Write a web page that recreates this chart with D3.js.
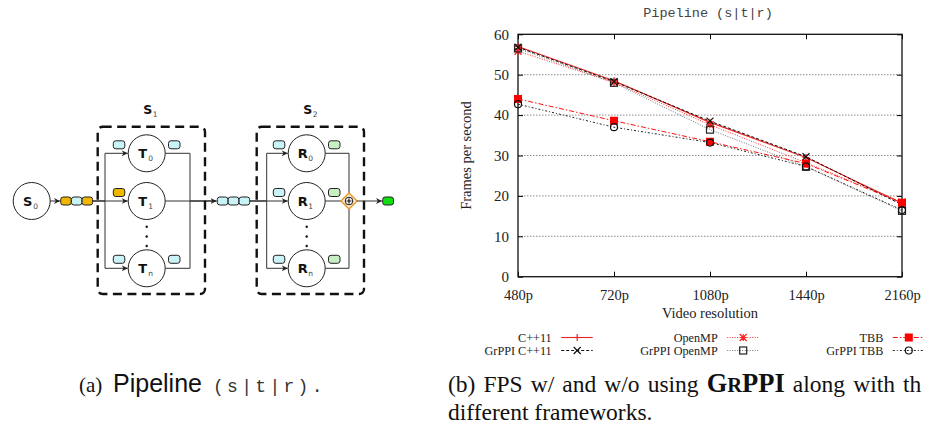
<!DOCTYPE html>
<html><head><meta charset="utf-8">
<script src="https://cdn.jsdelivr.net/npm/d3@7"></script>
<style>body{margin:0;background:#fff}svg{display:block}</style>
</head><body><svg id="c" width="925" height="427"></svg>
<script>
// ---------- chart data ----------
const categories = ["480p","720p","1080p","1440p","2160p"];
const cpp11       = [57.0,48.5,38.2,29.5,18.2];
const grppiCpp11  = [56.8,48.3,38.5,29.7,17.8];
const openmp      = [55.8,48.1,37.6,28.2,18.5];
const grppiOpenmp = [56.5,48.0,36.4,27.2,16.3];
const tbb         = [44.0,38.6,33.4,28.0,18.3];
const grppiTbb    = [42.7,37.0,33.2,27.3,16.5];
const yTicks = [0,10,20,30,40,50,60];
const seriesNames = ["C++11","GrPPI C++11","OpenMP","GrPPI OpenMP","TBB","GrPPI TBB"];
const seriesValues = [cpp11, grppiCpp11, openmp, grppiOpenmp, tbb, grppiTbb];

// ---------- diagram data ----------
const stageLabels = ["1","2"];
const workerNodes = [["T","T","T"],["R","R","R"]];
const workerSubs = ["0","1","n"];

const svg = d3.select("#c");
const serif = "'Liberation Serif','Times New Roman',serif";
const sans = "'DejaVu Sans',sans-serif";

// ===== Chart =====
const M = {l:518, r:902, t:34.3, b:276.7};
const x = d3.scalePoint().domain(categories).range([M.l, M.r]);
const y = d3.scaleLinear().domain([0,60]).range([M.b, M.t]);

const styles = [
  {stroke:"#e22", dash:null, w:1.1, mk:"plus", mc:"#e22"},
  {stroke:"#111", dash:"3,2", w:1, mk:"x", mc:"#111"},
  {stroke:"#f33", dash:"1,1.5", w:1, mk:"star", mc:"#f22"},
  {stroke:"#777", dash:"1,1.5", w:1, mk:"sq", mc:"#222"},
  {stroke:"#f11", dash:"5,2,1.5,2", w:1, mk:"fsq", mc:"#f00"},
  {stroke:"#222", dash:"2,2,1,2", w:1, mk:"circ", mc:"#111"}
];

svg.append("text").attr("x",708).attr("y",17).attr("text-anchor","middle")
  .attr("font-family","'Liberation Mono','Courier New',monospace").attr("font-size",13.5)
  .attr("fill","#444").text("Pipeline (s|t|r)");

// grid
svg.append("g").selectAll("line").data(yTicks.filter(v=>v>0&&v<60)).join("line")
  .attr("x1",M.l).attr("x2",M.r).attr("y1",d=>y(d)).attr("y2",d=>y(d))
  .attr("stroke","#8a8a8a").attr("stroke-width",1).attr("stroke-dasharray","1.5,1.5");

// axes
const gL = svg.append("g").attr("transform",`translate(${M.l},0)`)
  .call(d3.axisLeft(y).tickValues(yTicks).tickSize(-5).tickPadding(9));
gL.select(".domain").remove();
gL.selectAll("text").attr("font-family",serif).attr("font-size",15).attr("fill","#222");
const gR = svg.append("g").attr("transform",`translate(${M.r},0)`)
  .call(d3.axisRight(y).tickValues(yTicks).tickSize(-5).tickFormat(""));
gR.select(".domain").remove();
const gB = svg.append("g").attr("transform",`translate(0,${M.b})`)
  .call(d3.axisBottom(x).tickSize(-5).tickPadding(10));
gB.select(".domain").remove();
gB.selectAll("text").attr("font-family",serif).attr("font-size",14.5).attr("fill","#222").attr("dy","0.95em");
const gT = svg.append("g").attr("transform",`translate(0,${M.t})`)
  .call(d3.axisTop(x).tickSize(-5).tickFormat(""));
gT.select(".domain").remove();
svg.append("rect").attr("x",M.l).attr("y",M.t).attr("width",M.r-M.l).attr("height",M.b-M.t)
  .attr("fill","none").attr("stroke","#111").attr("stroke-width",1.3);

svg.append("text").attr("transform",`translate(471,${(M.t+M.b)/2}) rotate(-90)`)
  .attr("text-anchor","middle").attr("font-family",serif).attr("font-size",14.5).attr("fill","#222")
  .text("Frames per second");
svg.append("text").attr("x",(M.l+M.r)/2).attr("y",318).attr("text-anchor","middle")
  .attr("font-family",serif).attr("font-size",14.5).attr("fill","#222").text("Video resolution");

function marker(g, kind, cx, cy, color){
  const s=3.5;
  if(kind==="plus"){
    g.append("path").attr("d",`M${cx-s},${cy}H${cx+s}M${cx},${cy-s}V${cy+s}`).attr("stroke",color).attr("stroke-width",1.2).attr("fill","none");
  } else if(kind==="x"){
    g.append("path").attr("d",`M${cx-s},${cy-s}L${cx+s},${cy+s}M${cx-s},${cy+s}L${cx+s},${cy-s}`).attr("stroke",color).attr("stroke-width",1.2).attr("fill","none");
  } else if(kind==="star"){
    g.append("path").attr("d",`M${cx-s},${cy-s}L${cx+s},${cy+s}M${cx-s},${cy+s}L${cx+s},${cy-s}M${cx-s},${cy}H${cx+s}M${cx},${cy-s}V${cy+s}`).attr("stroke",color).attr("stroke-width",1.2).attr("fill","none");
  } else if(kind==="sq"){
    g.append("rect").attr("x",cx-s).attr("y",cy-s).attr("width",2*s).attr("height",2*s).attr("fill","none").attr("stroke",color).attr("stroke-width",1.2);
  } else if(kind==="fsq"){
    g.append("rect").attr("x",cx-s-0.5).attr("y",cy-s-0.5).attr("width",2*s+1).attr("height",2*s+1).attr("fill",color);
  } else if(kind==="circ"){
    g.append("circle").attr("cx",cx).attr("cy",cy).attr("r",s).attr("fill","none").attr("stroke",color).attr("stroke-width",1.2);
  }
}

const line = d3.line().x((d,i)=>x(categories[i])).y(d=>y(d));
const order = [2,3,0,1,4,5];
order.forEach(k=>{
  const st = styles[k];
  svg.append("path").datum(seriesValues[k]).attr("d",line).attr("fill","none")
    .attr("stroke",st.stroke).attr("stroke-width",st.w).attr("stroke-dasharray",st.dash);
});
order.forEach(k=>{
  const st = styles[k]; const g = svg.append("g");
  seriesValues[k].forEach((v,i)=>marker(g, st.mk, x(categories[i]), y(v), st.mc));
});

// legend
const legCols = [551.7, 717.7, 883.3];
const legRows = [337.5, 350.5];
seriesNames.forEach((n,k)=>{
  const cx = legCols[Math.floor(k/2)], cy = legRows[k%2], st = styles[k];
  svg.append("text").attr("x",cx).attr("y",cy+4).attr("text-anchor","end")
    .attr("font-family",serif).attr("font-size",12.2).attr("fill","#222").text(n);
  svg.append("line").attr("x1",cx+9.5).attr("x2",cx+41).attr("y1",cy).attr("y2",cy)
    .attr("stroke",st.stroke).attr("stroke-width",st.w).attr("stroke-dasharray",st.dash);
  marker(svg.append("g"), st.mk, cx+25.5, cy, st.mc);
});

// ===== Diagram =====
const defs = svg.append("defs");
defs.append("marker").attr("id","arr").attr("viewBox","0 0 10 10").attr("refX",10).attr("refY",5)
  .attr("markerWidth",6).attr("markerHeight",6).attr("markerUnits","userSpaceOnUse").attr("orient","auto")
  .append("path").attr("d","M0,0L10,5L0,10L3,5Z").attr("fill","#222");

const D = svg.append("g");
const ink = "#333";
const cOrange="#f2b600", cCyan="#c9f3f6", cLGreen="#c8efc4", cGreen="#11dd11";
const rowY = [153.3, 201, 268.3], midY = 201, R = 18.5;
function box(xx, yy, fill, w=11.5, h=8){
  D.append("rect").attr("x",xx).attr("y",yy).attr("width",w).attr("height",h).attr("rx",2.5)
   .attr("fill",fill).attr("stroke","#222").attr("stroke-width",1);
}
function node(cx, cy, letter, sub){
  D.append("circle").attr("cx",cx).attr("cy",cy).attr("r",R).attr("fill","#fff").attr("stroke","#222").attr("stroke-width",1);
  const t = D.append("text").attr("x",cx-4).attr("y",cy+4.5).attr("text-anchor","middle")
   .attr("font-family",sans).attr("font-size",13).attr("font-weight","bold").attr("fill","#111");
  t.append("tspan").text(letter);
  D.append("text").attr("x",cx+1.5).attr("y",cy+7.5).attr("font-family",sans).attr("font-size",7.5).attr("fill","#444").text(sub);
}
function seg(x1,y1,x2,y2,w=1,arrow=false){
  const l = D.append("line").attr("x1",x1).attr("y1",y1).attr("x2",x2).attr("y2",y2)
    .attr("stroke",ink).attr("stroke-width",w);
  if(arrow) l.attr("marker-end","url(#arr)");
}

// source
node(31.7, midY, "S", "0");
seg(31.7+R, midY, 60, midY, 1, true);
[cOrange,cCyan,cOrange].forEach((c,i)=>box(60.7+i*10.7, 197, c, 10.5, 8));

const stageCfg = [
  {cx:146.7, bx:97.7, split:105, merge:190, leftFill:[cCyan,cOrange,cCyan], rightFill:[cCyan,null,cCyan]},
  {cx:306.7, bx:256.7, split:266.7, merge:349, leftFill:[cCyan,cCyan,cCyan], rightFill:[cLGreen,cLGreen,cLGreen]}
];
// queue between + lines
seg(92.2, midY, stageCfg[0].split, midY, 1.6);
seg(stageCfg[0].merge, midY, 216.5, midY, 1.6, true);
[cCyan,cCyan,cCyan].forEach((c,i)=>box(217.3+i*10.9, 197, c, 10.6, 8));
seg(250, midY, stageCfg[1].split, midY, 1.6);

stageCfg.forEach((s,si)=>{
  D.append("rect").attr("x",s.bx).attr("y",126.7).attr("width",107.3).attr("height",167.3).attr("rx",5)
    .attr("fill","none").attr("stroke","#111").attr("stroke-width",2.4).attr("stroke-dasharray","9,5.5");
  D.append("text").attr("x",s.cx+1).attr("y",114).attr("text-anchor","middle").attr("font-family",sans)
    .attr("font-size",12.5).attr("font-weight","bold").attr("fill","#111").text("S");
  D.append("text").attr("x",s.cx+6).attr("y",116.5).attr("font-family",sans).attr("font-size",7.5).attr("fill","#444").text(stageLabels[si]);
  seg(s.split, rowY[0], s.split, rowY[2], 1);
  seg(s.merge, rowY[0], s.merge, rowY[2], 1);
  rowY.forEach((ry,ri)=>{
    seg(s.split, ry, s.cx-R-0.5, ry, 1, true);
    if(!(si===1 && ri===1)) seg(s.cx+R, ry, s.merge, ry, 1);
    else seg(s.cx+R, ry, s.merge-7.5, ry, 1);
    node(s.cx, ry, workerNodes[si][ri], workerSubs[ri]);
    const by = ri===2 ? ry-13 : ry-12.5;
    box(s.cx-33.4, by, s.leftFill[ri]);
    if(s.rightFill[ri]) box(s.cx+21.8, by, s.rightFill[ri]);
  });
  [226.7,236.5,246].forEach(dy=>D.append("circle").attr("cx",s.cx).attr("cy",dy).attr("r",1.2).attr("fill","#111"));
});
// reduce diamond + output
const dx = stageCfg[1].merge;
D.append("path").attr("d",`M${dx},${midY-8}L${dx+8},${midY}L${dx},${midY+8}L${dx-8},${midY}Z`)
  .attr("fill","#fbeed3").attr("stroke","#e79a2a").attr("stroke-width",1.5);
D.append("circle").attr("cx",dx).attr("cy",midY).attr("r",3.8).attr("fill","#fff").attr("stroke","#111").attr("stroke-width",1);
D.append("path").attr("d",`M${dx-2.5},${midY}H${dx+2.5}M${dx},${midY-2.5}V${midY+2.5}`).attr("stroke","#111").attr("stroke-width",1.2);
seg(dx+8, midY, 382, midY, 1, true);
box(382.7, 197, cGreen, 10.8, 8);

// ===== Captions =====
const capA = svg.append("text").attr("y",392).attr("fill","#111");
capA.append("tspan").attr("x",79).attr("font-family",serif).attr("font-size",21).text("(a)");
capA.append("tspan").attr("x",113).attr("font-family","'Liberation Sans',Arial,sans-serif").attr("font-size",25).text("Pipeline");
capA.append("tspan").attr("x",213).attr("font-family","'Liberation Mono','Courier New',monospace").attr("font-size",18).attr("letter-spacing",3.3).attr("fill","#333").text("(s|t|r).");

const capB = svg.append("text").attr("x",448).attr("y",392).attr("font-family",serif).attr("font-size",23.5).attr("fill","#111").attr("word-spacing",2.2);
capB.append("tspan").text("(b) FPS w/ and w/o using ");
capB.append("tspan").attr("font-weight","bold").attr("font-size",26.5).text("G");
capB.append("tspan").attr("font-weight","bold").attr("font-size",20.5).text("R");
capB.append("tspan").attr("font-weight","bold").attr("font-size",26.5).text("PPI");
capB.append("tspan").text(" along with th");
svg.append("text").attr("x",448).attr("y",420).attr("font-family",serif).attr("font-size",23.5).attr("fill","#111").text("different frameworks.");
</script></body></html>
